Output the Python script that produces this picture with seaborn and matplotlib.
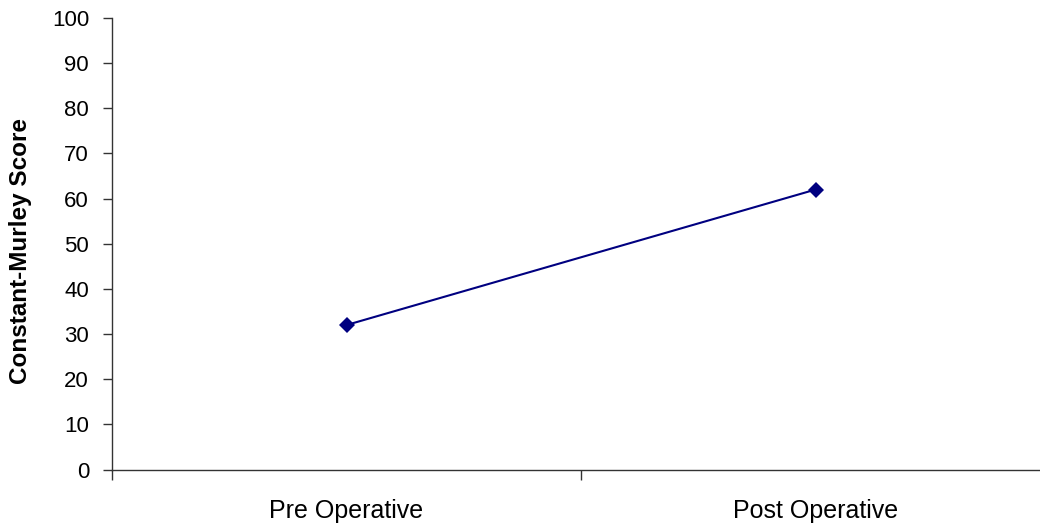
import numpy as np
import pandas as pd
import matplotlib
matplotlib.use("Agg")
import matplotlib.pyplot as plt
import seaborn as sns

# data
stages = ["Pre Operative", "Post Operative"]
scores = [32, 62]
y_ticks = list(range(0, 101, 10))

df = pd.DataFrame({"stage": stages, "score": scores})
df["pos"] = np.arange(len(stages))

sns.set_style("white")
plt.rcParams["font.family"] = ["Liberation Sans", "DejaVu Sans"]
plt.rcParams["text.color"] = "black"
plt.rcParams["axes.labelcolor"] = "black"
plt.rcParams["xtick.labelcolor"] = "black"
plt.rcParams["ytick.labelcolor"] = "black"

fig = plt.figure(figsize=(10.4, 5.25), dpi=100)
ax = fig.add_axes([112 / 1040, 1 - 469.5 / 525, 938 / 1040, (469.5 - 18) / 525])

sns.lineplot(data=df, x="pos", y="score", ax=ax, color="#000080",
             marker="D", markersize=8.5, linewidth=1.5, markeredgewidth=0)

ax.set_xlim(-0.5, len(stages) - 0.5)
ax.set_ylim(0, 100)
ax.set_yticks(y_ticks)

# category boundaries carry the tick marks, labels sit in the middle
ax.set_xticks(np.arange(-0.5, len(stages)), labels=[""] * (len(stages) + 1))
ax.set_xticks(df["pos"], labels=stages, minor=True)
ax.tick_params(axis="x", which="major", direction="out", length=7, width=1, color="#333333")
ax.tick_params(axis="x", which="minor", length=0, labelsize=18, pad=21)
ax.tick_params(axis="y", direction="out", length=6.5, width=1, color="#333333", labelsize=16, pad=10)
ax.tick_params(left=True, bottom=True)

for side in ["top", "right"]:
    ax.spines[side].set_visible(False)
for side in ["left", "bottom"]:
    ax.spines[side].set_color("#333333")
    ax.spines[side].set_linewidth(1)

ax.set_xlabel("")
ax.set_ylabel("Constant-Murley Score", fontsize=17.5, fontweight="bold")
ax.yaxis.set_label_coords(-0.0853, 0.484)

fig.savefig("out.png", dpi=100)
